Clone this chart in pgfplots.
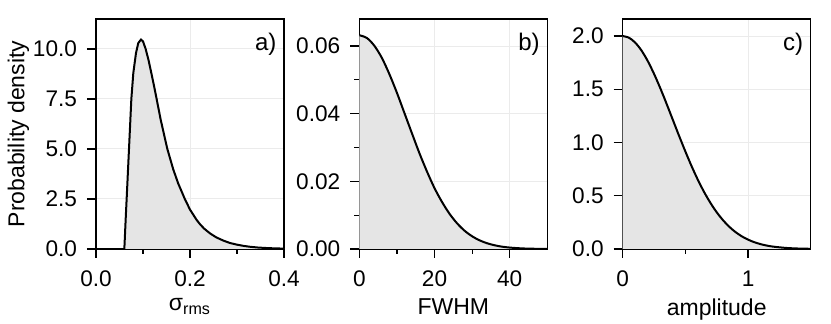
\documentclass[border=0pt]{standalone}
\usepackage{fontspec}
\setmainfont{Liberation Sans}
\usepackage{pgfplots}
\pgfplotsset{compat=1.18}

\definecolor{gridgray}{HTML}{EBEBEB}
\definecolor{fillgray}{HTML}{E5E5E5}

\pgfplotsset{
  panel/.style={
    scale only axis,
    width=94pt, height=115pt,
    axis line style={black, line width=0.6pt},
    tick align=outside,
    xtick pos=bottom, ytick pos=left,
    major tick length=4.5pt, minor tick length=2.5pt,
    every tick/.style={black, line width=0.6pt},
    grid=major,
    major grid style={gridgray, line width=0.5pt},
    ymin=0,
    tick label style={font=\fontsize{11.3}{13}\selectfont},
    label style={font=\fontsize{11.5}{13}\selectfont},
    xticklabel style={yshift=-3pt},
    yticklabel style={xshift=-1.5pt},
    /pgf/number format/assume math mode=true,
    /pgf/number format/fixed,
    /pgf/number format/fixed zerofill,
    xlabel style={yshift=1pt},
  },
  curve/.style={black, line width=1pt, no marks},
  area/.style={draw=none, fill=fillgray, no marks},
}

\newcommand{\tag}[1]{\node[anchor=north east, inner sep=0pt, font=\fontsize{12}{14}\selectfont]
  at (rel axis cs:1,1) [xshift=-3.6pt, yshift=-7pt] {#1};}

\begin{document}
\begin{tikzpicture}
\path[use as bounding box] (0,0) rectangle (415.5pt,162pt);

% a) sigma_rms
\begin{axis}[panel, at={(48pt,37.5pt)}, anchor=south west,
  xmin=0, xmax=0.4, ymax=11.5,
  xtick={0,0.2,0.4}, minor xtick={0.1,0.3},
  ytick={0,2.5,5,7.5,10},
  xticklabel style={/pgf/number format/precision=1},
  yticklabel style={/pgf/number format/precision=1},
  xlabel={σ\textsubscript{rms}},
  ylabel={Probability density},
  ylabel shift=-5pt,
]
\pgfplotstableread{
x y
0.0600 0
0.0603 0
0.0631 1.47
0.0652 2.5
0.0702 5.0
0.0752 7.5
0.0794 8.8
0.0851 9.8
0.0900 10.3
0.0957 10.47
0.1000 10.38
0.1057 10.0
0.1120 9.42
0.1177 8.8
0.1235 8.15
0.1290 7.5
0.1376 6.47
0.1450 5.7
0.1518 5.0
0.1645 3.97
0.1750 3.27
0.1890 2.5
0.2000 1.97
0.2142 1.45
0.2213 1.24
0.2300 1.02
0.2426 0.78
0.2560 0.58
0.2709 0.42
0.2850 0.30
0.2993 0.22
0.3140 0.155
0.3280 0.11
0.3450 0.072
0.3630 0.048
0.3800 0.031
0.4000 0.019
}\sigdata
\addplot[area] table {\sigdata} \closedcycle;
\addplot[curve] table {\sigdata};
\tag{a)}
\end{axis}

% b) FWHM
\begin{axis}[panel, at={(179.65pt,37.5pt)}, anchor=south west,
  xmin=0, xmax=50, ymax=0.068,
  xtick={0,20,40}, minor xtick={10,30},
  ytick={0,0.02,0.04,0.06}, minor ytick={0.01,0.03,0.05},
  xticklabel style={/pgf/number format/precision=0, /pgf/number format/fixed zerofill=false},
  yticklabel style={/pgf/number format/precision=2},
  scaled y ticks=false,
  xlabel={FWHM},
]
\pgfplotstableread{
x y
0 0.0632
2 0.0624
4 0.0601
6 0.0565
8 0.0517
10 0.0462
12 0.0402
14 0.0342
16 0.0283
18 0.0229
20 0.0180
22 0.0139
24 0.0104
26 0.0076
28 0.0054
30 0.00376
32 0.00255
34 0.00169
36 0.00109
38 0.00068
40 0.00042
43 0.00019
46 0.00008
50 0.000025
}\fwhmdata
\addplot[area] table {\fwhmdata} \closedcycle;
\addplot[curve, smooth] table {\fwhmdata};
\tag{b)}
\end{axis}

% c) amplitude
\begin{axis}[panel, at={(311.35pt,37.5pt)}, anchor=south west,
  xmin=0, xmax=1.5, ymax=2.16,
  xtick={0,1}, minor xtick={0.5},
  ytick={0,0.5,1,1.5,2},
  xticklabel style={/pgf/number format/precision=0, /pgf/number format/fixed zerofill=false},
  yticklabel style={/pgf/number format/precision=1},
  xlabel={amplitude},
]
\pgfplotstableread{
x y
0 2.0
0.05 1.984
0.10 1.938
0.15 1.864
0.20 1.765
0.25 1.645
0.30 1.510
0.35 1.364
0.40 1.213
0.45 1.062
0.50 0.916
0.55 0.777
0.60 0.649
0.65 0.534
0.70 0.433
0.75 0.345
0.80 0.271
0.85 0.209
0.90 0.159
0.95 0.119
1.00 0.0879
1.05 0.0638
1.10 0.0456
1.15 0.0321
1.20 0.0222
1.30 0.0102
1.40 0.0044
1.50 0.0018
}\ampdata
\addplot[area] table {\ampdata} \closedcycle;
\addplot[curve, smooth] table {\ampdata};
\tag{c)}
\end{axis}
\end{tikzpicture}
\end{document}
